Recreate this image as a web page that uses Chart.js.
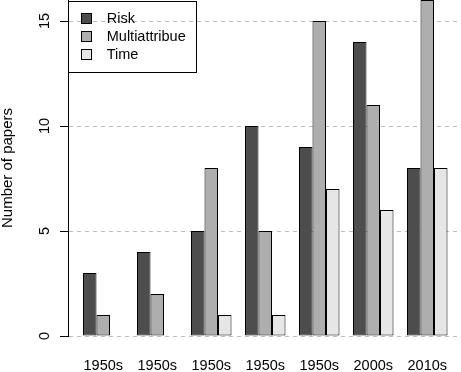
<!DOCTYPE html>
<html><head><meta charset="utf-8">
<script src="https://cdn.jsdelivr.net/npm/chart.js@4/dist/chart.umd.min.js"></script>
<style>html,body{margin:0;padding:0;background:#fff;}canvas{display:block;}</style>
</head><body>
<canvas id="c" width="461" height="372"></canvas>
<script>
const categories = ['1950s','1950s','1950s','1950s','1950s','2000s','2010s'];
const seriesNames = ['Risk','Multiattribue','Time'];
const risk = [3,4,5,10,9,14,8];
const multiattribue = [1,2,8,5,15,11,16];
const time = [0,0,1,1,7,6,8];
const yTicks = [0,5,10,15];
const yTitle = 'Number of papers';
const colors = ['#4d4d4d','#aeaeae','#e6e6e6'];
const FONT = "'Liberation Sans', Arial, Helvetica, sans-serif";
const FS = 14.5;

function swatch(color){
  const c = document.createElement('canvas'); c.width = 11; c.height = 11;
  const x = c.getContext('2d');
  x.fillStyle = color; x.fillRect(0,0,11,11);
  x.strokeStyle = '#000'; x.lineWidth = 1; x.strokeRect(0.5,0.5,10,10);
  return c;
}
const swatches = colors.map(swatch);

const series = [risk, multiattribue, time];
const datasets = series.map((vals, s) => ({
  label: seriesNames[s],
  data: vals.map((v, i) => ({x: i, y: v})),
  backgroundColor: colors[s],
  borderColor: '#000',
  borderWidth: 1,
  borderSkipped: false,
  categoryPercentage: 0.75,
  barPercentage: 1
}));

const legendPlace = {
  id: 'legendPlace',
  afterLayout(chart){
    const lg = chart.legend; if (!lg) return;
    lg.left = 70; lg.top = 7.75;
  },
  afterDraw(chart){
    const ctx = chart.ctx; ctx.save();
    ctx.strokeStyle = '#000'; ctx.lineWidth = 1;
    ctx.strokeRect(68.5, 1.5, 128, 71);
    ctx.restore();
  }
};

new Chart(document.getElementById('c'), {
  type: 'bar',
  data: { datasets },
  plugins: [legendPlace],
  options: {
    responsive: false, animation: false, devicePixelRatio: 1,
    layout: { padding: 0 },
    plugins: {
      tooltip: { enabled: false },
      legend: {
        position: 'chartArea', align: 'start',
        labels: {
          usePointStyle: true, pointStyleWidth: 26, padding: 3.5,
          color: '#000', font: { family: FONT, size: FS },
          generateLabels: (chart) => chart.data.datasets.map((ds, i) => ({
            text: ds.label, pointStyle: swatches[i], fillStyle: ds.backgroundColor,
            strokeStyle: '#000', lineWidth: 0, hidden: false, datasetIndex: i
          }))
        }
      }
    },
    scales: {
      x: {
        type: 'linear', min: -0.653, max: 6.625, offset: false,
        grid: { display: false, drawTicks: false },
        border: { display: false },
        afterBuildTicks: s => { s.ticks = categories.map((_, i) => ({ value: i })); },
        afterFit: s => { s.height = 36; s.paddingLeft = 0; s.paddingRight = 0; },
        ticks: { autoSkip: false, maxRotation: 0, minRotation: 0, padding: 21, color: '#000',
                 font: { family: FONT, size: FS }, callback: (v, i) => categories[i] }
      },
      y: {
        min: 0, max: 16,
        afterBuildTicks: s => { s.ticks = yTicks.map(v => ({ value: v })); },
        afterFit: s => { s.width = 68; s.paddingTop = 0; s.paddingBottom = 0; },
        grid: { color: '#bebebe', lineWidth: 1, tickColor: '#000', tickLength: 8, tickBorderDash: [] },
        border: { display: true, color: '#000', width: 1, dash: [4, 4] },
        ticks: { minRotation: 90, maxRotation: 90, crossAlign: 'center', padding: 7, color: '#000',
                 font: { family: FONT, size: FS } },
        title: { display: true, text: yTitle, color: '#000', padding: 0,
                 font: { family: FONT, size: 15, lineHeight: 1 } }
      }
    }
  }
});
</script>
</body></html>
